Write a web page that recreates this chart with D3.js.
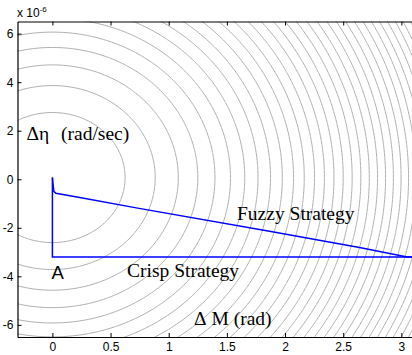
<!DOCTYPE html>
<html>
<head>
<meta charset="utf-8">
<script src="https://cdn.jsdelivr.net/npm/d3@7"></script>
<style>
  html, body { margin: 0; padding: 0; background: #fff; }
  svg { display: block; }
</style>
</head>
<body>
<svg id="chart" width="412" height="355"></svg>
<script>
// ---- data ----
const xTicks = [0, 0.5, 1, 1.5, 2, 2.5, 3];
const xTickLabels = ["0", "0.5", "1", "1.5", "2", "2.5", "3"];
const yTicks = [-6, -4, -2, 0, 2, 4, 6];
const yTickLabels = ["-6", "-4", "-2", "0", "2", "4", "6"];
const xDomain = [-0.3, 3.1];
const yDomain = [-6.5, 6.5];               // units of 1e-6 rad/sec

// cost-function contours: J = (dM/a)^2 + ((dEta - c)/b)^2, levels 1..N
const contourCenter = [0, 0.07];
const contourSemiAxes = [0.625, 2.68];
const contourLevels = d3.range(1, 41);

// trajectories (dM in rad, dEta in 1e-6 rad/sec)
const crispX = [0, 0, 3.1];
const crispY = [0.07, -3.2, -3.2];
const fuzzyX = [0, 0.012, 0.03, 0.235, 0.745, 1.866, 2.64, 3.05, 3.1];
const fuzzyY = [0.07, -0.5, -0.58, -0.75, -1.2, -2.14, -2.81, -3.2, -3.2];

// ---- layout ----
const svg = d3.select("#chart");
const L = 17.5, R = 413, T = 21.5, B = 337;
const x = d3.scaleLinear().domain(xDomain).range([L, R]);
const y = d3.scaleLinear().domain(yDomain).range([B, T]);

svg.append("defs").append("clipPath").attr("id", "clip")
  .append("rect").attr("x", L).attr("y", T).attr("width", R - L).attr("height", B - T);

// ---- contours via d3.contours on a grid extending beyond the plot ----
const nx = 260, ny = 260;
const gx0 = -0.6, gx1 = 3.4, gy0 = -7, gy1 = 7;
const values = new Array(nx * ny);
for (let j = 0; j < ny; j++) {
  const yy = gy1 - (gy1 - gy0) * j / (ny - 1);
  for (let i = 0; i < nx; i++) {
    const xx = gx0 + (gx1 - gx0) * i / (nx - 1);
    const u = (xx - contourCenter[0]) / contourSemiAxes[0];
    const v = (yy - contourCenter[1]) / contourSemiAxes[1];
    values[j * nx + i] = u * u + v * v;
  }
}
const contours = d3.contours().size([nx, ny]).smooth(true).thresholds(contourLevels)(values);
const toPx = p => [
  x(gx0 + (gx1 - gx0) * (p[0] - 0.5) / (nx - 1)),
  y(gy1 - (gy1 - gy0) * (p[1] - 0.5) / (ny - 1))
];
const gC = svg.append("g").attr("clip-path", "url(#clip)");
const lineGen = d3.line();
contours.forEach(c => {
  c.coordinates.forEach(poly => {
    poly.forEach(ring => {
      gC.append("path")
        .attr("d", lineGen(ring.map(toPx)) + "Z")
        .attr("fill", "none")
        .attr("stroke", "#adadad")
        .attr("stroke-width", 1);
    });
  });
});

// ---- trajectories ----
const gL = svg.append("g").attr("clip-path", "url(#clip)");
const line = d3.line().x(d => x(d[0])).y(d => y(d[1]));
gL.append("path").datum(crispX.map((v, i) => [v, crispY[i]]))
  .attr("d", line).attr("fill", "none").attr("stroke", "#0000ff").attr("stroke-width", 1.5);
gL.append("path").datum(fuzzyX.map((v, i) => [v, fuzzyY[i]]))
  .attr("d", line).attr("fill", "none").attr("stroke", "#0000ff").attr("stroke-width", 1.5);

// ---- axes ----
const tickFont = "'Liberation Sans', Arial, sans-serif";
const xb = svg.append("g").attr("transform", `translate(0,${B})`)
  .call(d3.axisBottom(x).tickValues(xTicks).tickFormat((d, i) => xTickLabels[i]).tickSizeInner(-4).tickSizeOuter(0).tickPadding(5));
const xt = svg.append("g").attr("transform", `translate(0,${T})`)
  .call(d3.axisTop(x).tickValues(xTicks).tickFormat("").tickSizeInner(-4).tickSizeOuter(0));
const yl = svg.append("g").attr("transform", `translate(${L},0)`)
  .call(d3.axisLeft(y).tickValues(yTicks).tickFormat((d, i) => yTickLabels[i]).tickSizeInner(-4).tickSizeOuter(0).tickPadding(4));
[xb, xt, yl].forEach(g => {
  g.select(".domain").attr("stroke", "#000").attr("stroke-width", 1.2);
  g.selectAll(".tick line").attr("stroke", "#000");
  g.selectAll("text").attr("font-family", tickFont).attr("font-size", 12).attr("fill", "#000");
});

// exponent label
const ex = svg.append("text").attr("x", 17).attr("y", 16.5)
  .attr("font-family", tickFont).attr("font-size", 12).attr("fill", "#000");
ex.append("tspan").text("x 10");
ex.append("tspan").attr("font-size", 8).attr("dy", -5).text("-6");

// ---- annotations ----
const serif = "'Liberation Serif', 'Times New Roman', serif";
function label(txt, px, py, font, size) {
  svg.append("text").attr("x", px).attr("y", py).attr("font-family", font)
    .attr("font-size", size).attr("fill", "#000").text(txt);
}
label("Δη", 26.5, 140, serif, 19.5);
label("(rad/sec)", 61, 140, serif, 19.5);
label("Fuzzy Strategy", 237, 220, serif, 19.5);
label("Crisp Strategy", 127, 277, serif, 19.5);
label("A", 51.5, 279, tickFont, 18.5);
label("Δ", 194, 325, serif, 19.5);
label("M (rad)", 211.5, 325, serif, 19.5);
</script>
</body>
</html>
